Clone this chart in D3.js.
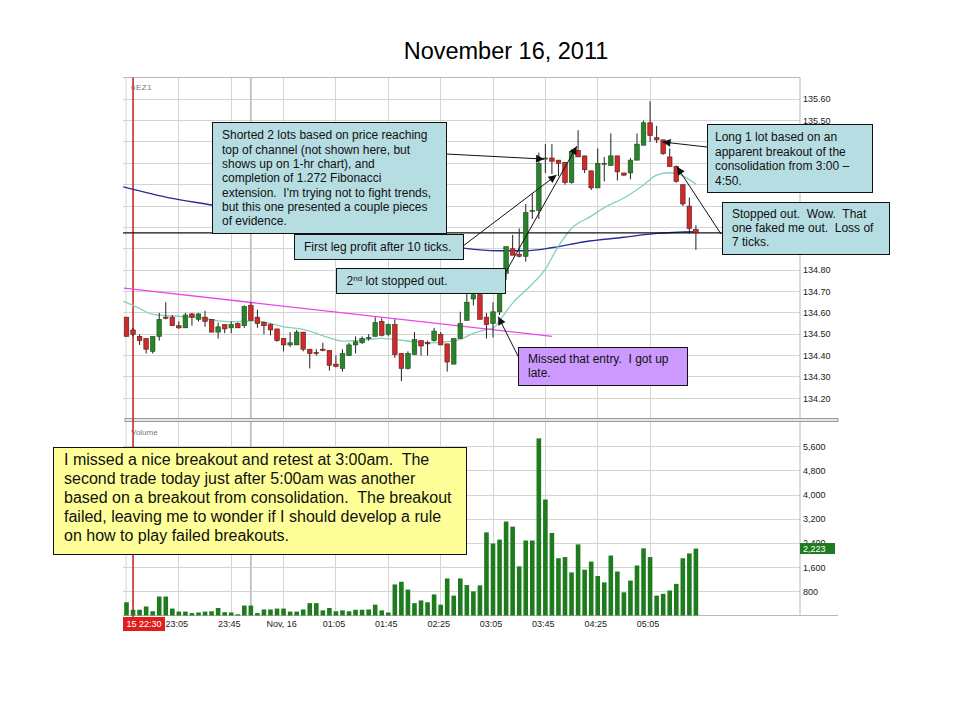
<!DOCTYPE html>
<html>
<head>
<meta charset="utf-8">
<script src="https://cdn.jsdelivr.net/npm/d3@7"></script>
<style>
  body { margin: 0; background: #fff; }
  svg { font-family: "Liberation Sans", Arial, sans-serif; }
  .grid { stroke: #d4d4d4; stroke-width: 1px; shape-rendering: crispEdges; }
  .axis-label { font-size: 9px; fill: #1a1a1a; }
  .note-text { fill: #111; white-space: pre; }
</style>
</head>
<body>
<div id="chart"></div>
<script>
  // ---- data ----
  const open = [134.58,134.52,134.49,134.48,134.42,134.49,134.58,134.58,134.54,134.53,
    134.595,134.57,134.58,134.57,134.51,134.545,134.53,134.55,134.54,134.635,
    134.58,134.555,134.545,134.525,134.48,134.45,134.45,134.51,134.43,134.415,
    134.43,134.425,134.36,134.34,134.40,134.45,134.46,134.485,134.49,134.56,
    134.50,134.545,134.41,134.34,134.405,134.47,134.46,134.47,134.50,134.455,
    134.36,134.48,134.565,134.665,134.685,134.58,134.55,134.605,134.785,134.90,
    134.875,134.865,135.08,135.08,135.32,135.325,135.315,135.305,135.21,135.36,
    135.335,135.265,135.185,135.30,135.29,135.335,135.255,135.255,135.315,135.385,
    135.49,135.42,135.41,135.33,135.285,135.20,135.10,134.99];
  const high = [134.58,134.53,134.50,134.48,134.49,134.60,134.65,134.59,134.56,134.60,
    134.60,134.60,134.61,134.57,134.555,134.545,134.56,134.555,134.635,134.65,
    134.615,134.56,134.55,134.525,134.48,134.51,134.52,134.51,134.43,134.43,
    134.46,134.425,134.40,134.43,134.46,134.49,134.49,134.50,134.58,134.575,
    134.55,134.57,134.41,134.42,134.51,134.47,134.47,134.53,134.51,134.455,
    134.48,134.605,134.69,134.69,134.69,134.60,134.65,134.80,134.91,134.965,
    134.995,135.11,135.16,135.35,135.39,135.39,135.315,135.305,135.365,135.455,
    135.335,135.265,135.37,135.33,135.44,135.335,135.255,135.325,135.44,135.50,
    135.59,135.475,135.41,135.37,135.29,135.20,135.14,135.01];
  const low = [134.49,134.49,134.45,134.41,134.41,134.47,134.57,134.54,134.525,134.53,
    134.54,134.56,134.535,134.51,134.48,134.505,134.505,134.53,134.53,134.565,
    134.53,134.50,134.495,134.465,134.42,134.44,134.45,134.42,134.34,134.40,
    134.42,134.33,134.345,134.325,134.40,134.41,134.455,134.47,134.49,134.49,
    134.49,134.39,134.28,134.335,134.405,134.40,134.40,134.465,134.45,134.325,
    134.36,134.48,134.565,134.635,134.57,134.48,134.485,134.59,134.755,134.87,
    134.86,134.84,135.04,135.04,135.255,135.25,135.24,135.20,135.205,135.33,
    135.255,135.175,135.185,135.215,135.29,135.22,135.24,135.225,135.315,135.385,
    135.40,135.395,135.34,135.285,135.21,135.10,134.97,134.895];
  const close = [134.49,134.50,134.47,134.43,134.49,134.57,134.575,134.54,134.53,134.59,
    134.58,134.595,134.56,134.51,134.535,134.525,134.545,134.53,134.63,134.565,
    134.55,134.54,134.52,134.47,134.45,134.46,134.51,134.43,134.41,134.41,
    134.425,134.355,134.35,134.41,134.45,134.465,134.48,134.485,134.555,134.495,
    134.545,134.405,134.34,134.41,134.475,134.445,134.455,134.515,134.45,134.37,
    134.48,134.55,134.65,134.685,134.57,134.545,134.605,134.78,134.91,134.87,
    134.865,135.07,135.08,135.30,135.325,135.31,135.30,135.21,135.355,135.33,
    135.27,135.185,135.30,135.30,135.335,135.26,135.245,135.315,135.39,135.49,
    135.43,135.41,135.345,135.285,135.215,135.11,134.995,134.975];
  const volume = [440,190,190,300,140,630,630,230,130,130,
    80,100,130,140,250,110,100,40,330,330,
    80,200,200,230,230,130,130,200,410,410,
    170,250,140,170,140,190,190,200,360,170,
    100,1030,1120,860,410,500,440,700,360,1230,
    660,1230,1010,800,1000,2760,2390,2520,3120,2950,
    1630,2490,2490,5880,3850,2740,1900,1940,1430,2360,
    1520,1790,1310,1100,1990,1460,770,1160,1660,2230,
    1940,660,720,830,1050,1900,2060,2223];

  // moving averages, sampled at bar indexes
  const fastMaIdx = [-0.5,2,4,7,9,12,14,17,19,22,24,27,29,31,33,36,39,41,44,47,49,51,53,55,56,57,59,62,64,66,68,71,73,76,79,81,83,84,86,87];
  const fastMaVal = [134.655,134.621,134.593,134.586,134.582,134.574,134.563,134.559,134.563,134.551,134.535,134.523,134.504,134.483,134.468,134.473,134.481,134.476,134.465,134.46,134.465,134.476,134.504,134.522,134.528,134.565,134.646,134.735,134.805,134.913,134.995,135.053,135.093,135.138,135.199,135.245,135.256,135.253,135.224,135.203];
  const slowMaIdx = [-0.5,7,13,25,38,47,51,54,57,61,65,70,76,81,87];
  const slowMaVal = [135.19,135.136,135.105,135.03,134.96,134.92,134.905,134.895,134.891,134.891,134.905,134.933,134.954,134.972,134.98];

  const trendIdx = [-0.4, 65];
  const trendVal = [134.716, 134.49];
  const stopLevel = 134.975;

  const priceTicks = [134.20,134.30,134.40,134.50,134.60,134.70,134.80,134.90,135.00,135.10,135.20,135.30,135.40,135.50,135.60];
  // labels that are not hidden behind the note boxes
  const priceLabels = [134.20,134.30,134.40,134.50,134.60,134.70,134.80,135.50,135.60];
  const volumeTicks = [800,1600,2400,3200,4000,4800,5600];
  const timeTickIdx = [8,16,24,32,40,48,56,64,72,80];
  const timeTickLabels = ['23:05','23:45','Nov, 16','01:05','01:45','02:25','03:05','03:45','04:25','05:05'];
  const dayBreakIdx = 19;
  const sessionIdx = 1;
  const sessionLabel = '15 22:30';
  const symbol = '6EZ1';
  const title = 'November 16, 2011';

  const shortedText = ['Shorted 2 lots based on price reaching', 'top of channel (not shown here, but',
    'shows up on 1-hr chart), and', 'completion of 1.272 Fibonacci',
    "extension.  I'm trying not to fight trends,", 'but this one presented a couple pieces', 'of evidence.'];
  const firstLegText = ['First leg profit after 10 ticks.'];
  const missedText = ['Missed that entry.  I got up', 'late.'];
  const longText = ['Long 1 lot based on an', 'apparent breakout of the', 'consolidation from 3:00 \u2013', '4:50.'];
  const stoppedText = ['Stopped out.  Wow.  That', 'one faked me out.  Loss of', '7 ticks.'];
  const summaryText = ['I missed a nice breakout and retest at 3:00am.  The',
    'second trade today just after 5:00am was another',
    'based on a breakout from consolidation.  The breakout',
    "failed, leaving me to wonder if I should develop a rule",
    'on how to play failed breakouts.'];

  // ---- layout ----
  const w = 960;
  const h = 720;
  const plotLeft = 123, plotRight = 800, axisRight = 838;
  const priceTop = 77.5, sepY = 420, volBottom = 615.5;
  const boxBlue = '#b6dde2';

  const x = d3.scaleLinear().domain([0, 87]).range([126.5, 695.9]);
  const y = d3.scaleLinear().domain([134.10, 135.70]).range([419.7, 77.9]);
  const yv = d3.scaleLinear().domain([0, 6400]).range([volBottom, 422.7]);

  const svg = d3.select('#chart')
    .append('svg')
      .attr('width', w)
      .attr('height', h);

  svg.append('defs').append('marker')
      .attr('id', 'arrowHead')
      .attr('viewBox', '0 0 10 10')
      .attr('refX', 10)
      .attr('refY', 5)
      .attr('markerUnits', 'userSpaceOnUse')
      .attr('markerWidth', 11)
      .attr('markerHeight', 8)
      .attr('orient', 'auto')
    .append('path')
      .attr('d', 'M0,0 L10,5 L0,10 Z')
      .style('fill', '#111');

  // title
  svg.append('text')
      .attr('x', 506)
      .attr('y', 59)
      .attr('text-anchor', 'middle')
      .style('font-size', '23.5px')
      .style('fill', '#000')
      .text(title);

  // grid
  const grid = svg.append('g');
  grid.selectAll('.hp')
    .data(priceTicks)
    .enter().append('line')
      .attr('class', 'grid')
      .attr('x1', plotLeft).attr('x2', plotRight)
      .attr('y1', d => y(d)).attr('y2', d => y(d));
  grid.selectAll('.hv')
    .data(volumeTicks)
    .enter().append('line')
      .attr('class', 'grid')
      .attr('x1', plotLeft).attr('x2', plotRight)
      .attr('y1', d => yv(d)).attr('y2', d => yv(d));
  grid.selectAll('.vt')
    .data(timeTickIdx)
    .enter().append('line')
      .attr('class', 'grid')
      .attr('x1', d => x(d)).attr('x2', d => x(d))
      .attr('y1', priceTop).attr('y2', volBottom);
  grid.append('line')
      .attr('x1', x(dayBreakIdx)).attr('x2', x(dayBreakIdx))
      .attr('y1', priceTop).attr('y2', volBottom)
      .style('stroke', '#c4c4c4')
      .style('stroke-width', '2px');

  // frame
  const frame = svg.append('g').style('stroke', '#b8b8b8').style('fill', 'none');
  frame.append('line').attr('x1', plotLeft).attr('x2', plotRight).attr('y1', priceTop).attr('y2', priceTop);
  frame.append('line').attr('x1', plotLeft + 3).attr('x2', plotLeft + 3).attr('y1', priceTop).attr('y2', volBottom).style('stroke', '#d4d4d4');
  frame.append('line').attr('x1', plotRight).attr('x2', plotRight).attr('y1', priceTop).attr('y2', volBottom);
  frame.append('rect')
      .attr('x', plotLeft + 2).attr('y', sepY - 1.5)
      .attr('width', axisRight - plotLeft - 2).attr('height', 3)
      .style('fill', '#e6e6e6').style('stroke', '#9a9a9a');
  frame.append('line').attr('x1', plotLeft).attr('x2', axisRight).attr('y1', volBottom).attr('y2', volBottom);

  // session start marker
  svg.append('line')
      .attr('x1', x(sessionIdx)).attr('x2', x(sessionIdx))
      .attr('y1', priceTop).attr('y2', volBottom + 2)
      .style('stroke', '#c41a1a')
      .style('stroke-width', '1.5px');

  svg.append('text').attr('x', 131).attr('y', 90)
      .style('font-size', '8px').style('fill', '#777').style('letter-spacing', '0.5px')
      .text(symbol);
  svg.append('text').attr('x', 131).attr('y', 435)
      .style('font-size', '8px').style('fill', '#777')
      .text('Volume');

  // moving averages and lines
  const maLine = d3.line().curve(d3.curveMonotoneX).x(d => x(d[0])).y(d => y(d[1]));
  svg.append('path')
      .attr('d', maLine(d3.zip(slowMaIdx, slowMaVal)))
      .style('fill', 'none').style('stroke', '#2a2a9a').style('stroke-width', '1.4px');
  svg.append('path')
      .attr('d', maLine(d3.zip(fastMaIdx, fastMaVal)))
      .style('fill', 'none').style('stroke', '#86cfb8').style('stroke-width', '1.3px');
  svg.append('path')
      .attr('d', d3.line().x(d => x(d[0])).y(d => y(d[1]))(d3.zip(trendIdx, trendVal)))
      .style('fill', 'none').style('stroke', '#ee44ee').style('stroke-width', '1.3px');
  svg.append('line')
      .attr('x1', plotLeft).attr('x2', plotRight)
      .attr('y1', y(stopLevel)).attr('y2', y(stopLevel))
      .style('stroke', '#111').style('stroke-width', '1.2px');

  // candles
  const bars = d3.range(open.length).map(i => ({i, o: open[i], h: high[i], l: low[i], c: close[i], v: volume[i]}));
  const bodyW = 4.6;
  const candles = svg.append('g').selectAll('g')
    .data(bars)
    .enter().append('g');
  candles.append('line')
      .attr('x1', d => x(d.i)).attr('x2', d => x(d.i))
      .attr('y1', d => y(d.h)).attr('y2', d => y(d.l))
      .style('stroke', '#222').style('stroke-width', '1px');
  candles.append('rect')
      .attr('x', d => x(d.i) - bodyW / 2)
      .attr('y', d => y(Math.max(d.o, d.c)))
      .attr('width', bodyW)
      .attr('height', d => Math.max(1, Math.abs(y(d.o) - y(d.c))))
      .style('fill', d => d.c >= d.o ? '#2a822a' : '#d02a2a')
      .style('stroke', d => d.c >= d.o ? '#1d4d1d' : '#5a1a1a')
      .style('stroke-width', '0.6px');

  // volume
  svg.append('g').selectAll('rect')
    .data(bars)
    .enter().append('rect')
      .attr('x', d => x(d.i) - bodyW / 2)
      .attr('y', d => yv(d.v))
      .attr('width', bodyW)
      .attr('height', d => yv(0) - yv(d.v))
      .style('fill', '#1e7b1e');

  // axis labels
  svg.append('g').selectAll('text')
    .data(priceLabels)
    .enter().append('text')
      .attr('class', 'axis-label')
      .attr('x', plotRight + 3)
      .attr('y', d => y(d) + 3.2)
      .text(d3.format('.2f'));
  svg.append('g').selectAll('text')
    .data(volumeTicks)
    .enter().append('text')
      .attr('class', 'axis-label')
      .attr('x', plotRight + 3)
      .attr('y', d => yv(d) + 3.2)
      .text(d3.format(','));
  const lastVol = volume[volume.length - 1];
  svg.append('rect')
      .attr('x', plotRight).attr('y', yv(lastVol) - 5.5)
      .attr('width', 35).attr('height', 11)
      .style('fill', '#1e7b1e');
  svg.append('text')
      .attr('class', 'axis-label')
      .attr('x', plotRight + 3).attr('y', yv(lastVol) + 3.2)
      .style('fill', '#fff')
      .text(d3.format(',')(lastVol));

  svg.append('g').selectAll('text')
    .data(timeTickIdx)
    .enter().append('text')
      .attr('class', 'axis-label')
      .attr('x', d => x(d) - 2)
      .attr('y', 626.5)
      .attr('text-anchor', 'middle')
      .text((d, i) => timeTickLabels[i]);
  svg.append('rect')
      .attr('x', plotLeft).attr('y', 617)
      .attr('width', 42).attr('height', 14)
      .style('fill', '#e01e1e');
  svg.append('text')
      .attr('class', 'axis-label')
      .attr('x', plotLeft + 21).attr('y', 626.5)
      .attr('text-anchor', 'middle')
      .style('fill', '#fff')
      .text(sessionLabel);

  // annotation arrows: box anchor -> bar index / price
  const arrowLinks = [
    {x0: 446, y0: 154, i: 63.8, p: 135.32},
    {x0: 463, y0: 246, i: 65.7, p: 135.245},
    {x0: 503, y0: 277, i: 68.8, p: 135.38},
    {x0: 519, y0: 358, i: 56.8, p: 134.582},
    {x0: 707, y0: 147, i: 81.9, p: 135.40},
    {x0: 721, y0: 234, i: 84.1, p: 135.284}
  ];
  svg.append('g').selectAll('line')
    .data(arrowLinks)
    .enter().append('line')
      .attr('x1', d => d.x0).attr('y1', d => d.y0)
      .attr('x2', d => x(d.i)).attr('y2', d => y(d.p))
      .attr('marker-end', 'url(#arrowHead)')
      .style('stroke', '#111').style('stroke-width', '1px');

  // annotation boxes
  const notes = [
    {x: 212, y: 122, w: 234, h: 111, fill: boxBlue, size: 12, lead: 14.3, tx: 222, ty: 139.3, lines: shortedText},
    {x: 294, y: 234, w: 169, h: 25, fill: boxBlue, size: 12, lead: 14.3, tx: 304, ty: 251, lines: firstLegText},
    {x: 336, y: 268, w: 169, h: 25, fill: boxBlue, size: 12, lead: 14.3, tx: 346.5, ty: 285, lines: null},
    {x: 518, y: 347, w: 169, h: 38, fill: '#cc99ff', size: 12, lead: 14.4, tx: 528, ty: 362.5, lines: missedText},
    {x: 707, y: 124, w: 165, h: 68, fill: boxBlue, size: 12, lead: 14.5, tx: 715, ty: 141, lines: longText},
    {x: 722, y: 202, w: 167, h: 52, fill: boxBlue, size: 12, lead: 14.2, tx: 732, ty: 217.6, lines: stoppedText},
    {x: 53, y: 447, w: 413, h: 107, fill: '#ffff99', size: 16, lead: 18.9, tx: 64, ty: 465, lines: summaryText}
  ];
  const noteG = svg.append('g').selectAll('g')
    .data(notes)
    .enter().append('g');
  noteG.append('rect')
      .attr('x', d => d.x + 0.5).attr('y', d => d.y + 0.5)
      .attr('width', d => d.w).attr('height', d => d.h)
      .style('fill', d => d.fill)
      .style('stroke', '#111').style('stroke-width', '1px');
  noteG.filter(d => d.lines).each(function(d) {
    d3.select(this).selectAll('text')
      .data(d.lines)
      .enter().append('text')
        .attr('class', 'note-text')
        .attr('x', d.tx)
        .attr('y', (t, k) => d.ty + k * d.lead)
        .style('font-size', d.size + 'px')
        .text(t => t);
  });
  // the "2nd lot" box has a superscript
  const second = noteG.filter(d => !d.lines).append('text')
      .attr('class', 'note-text')
      .attr('x', d => d.tx)
      .attr('y', d => d.ty)
      .style('font-size', '12px');
  second.append('tspan').text('2');
  second.append('tspan').attr('dy', -4).style('font-size', '8px').text('nd');
  second.append('tspan').attr('dy', 4).text(' lot stopped out.');
</script>
</body>
</html>
